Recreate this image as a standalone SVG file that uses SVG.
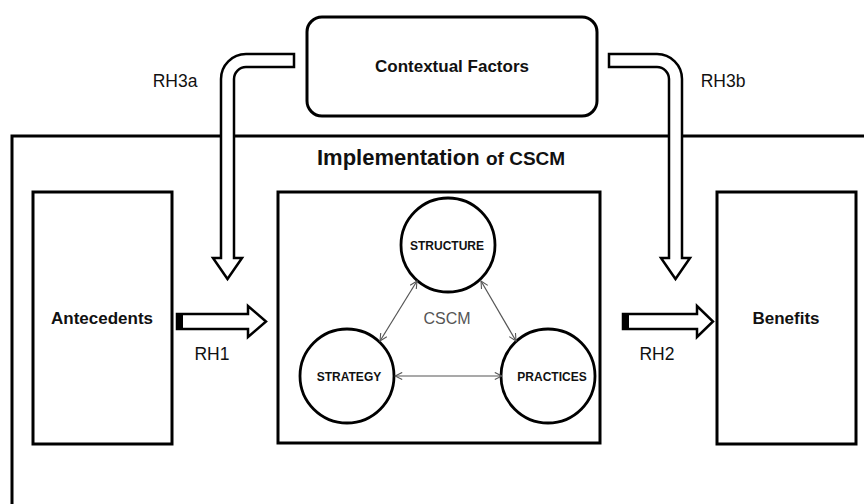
<svg xmlns="http://www.w3.org/2000/svg" width="864" height="504" viewBox="0 0 864 504">
<style>
text{font-family:"Liberation Sans",Arial,sans-serif;fill:#111}
.b{font-weight:bold}
.box{fill:#fff;stroke:#000;stroke-width:3}
.circ{fill:#fff;stroke:#000;stroke-width:2.8}
.fat{fill:#fff;stroke:#000;stroke-width:2.5;stroke-linejoin:miter}
.thin{stroke:#555;stroke-width:1.2;fill:none;marker-start:url(#oa);marker-end:url(#oa)}
.lbl{font-size:17.5px}
</style>
<defs>
<marker id="oa" viewBox="0 0 10 10" refX="9" refY="5" markerWidth="9" markerHeight="9" markerUnits="userSpaceOnUse" orient="auto-start-reverse">
<path d="M1,1 L9,5 L1,9" fill="none" stroke="#555" stroke-width="1.2"/>
</marker>
</defs>
<rect width="864" height="504" fill="#fff"/>
<g id="implementation">
<path d="M12,506 V136 H866" fill="none" stroke="#000" stroke-width="3"/>
<text x="317" y="165" class="b" style="font-size:22px">Implementation<tspan x="486" style="font-size:19px">of CSCM</tspan></text>
</g>
<g id="contextual">
<rect x="307" y="17" width="290" height="99" rx="15" class="box" stroke-width="2.5"/>
<text x="452" y="72" text-anchor="middle" class="b" style="font-size:17px">Contextual Factors</text>
</g>
<g id="antecedents">
<rect x="33" y="192" width="139" height="252" class="box"/>
<text x="102" y="324" text-anchor="middle" class="b" style="font-size:17px">Antecedents</text>
</g>
<g id="cscm">
<rect x="278" y="192" width="322" height="251" class="box"/>
<text x="447" y="324" text-anchor="middle" style="font-size:16px;fill:#555">CSCM</text>
</g>
<g id="benefits">
<rect x="717" y="192" width="139" height="252" class="box"/>
<text x="786" y="324" text-anchor="middle" class="b" style="font-size:17px">Benefits</text>
</g>
<g id="structure">
<circle cx="448" cy="245" r="47" class="circ"/>
<text x="447" y="250" text-anchor="middle" class="b" style="font-size:12px">STRUCTURE</text>
</g>
<g id="strategy">
<circle cx="347" cy="376" r="47" class="circ"/>
<text x="349" y="381" text-anchor="middle" class="b" style="font-size:12px">STRATEGY</text>
</g>
<g id="practices">
<circle cx="548" cy="376" r="47" class="circ"/>
<text x="552" y="381" text-anchor="middle" class="b" style="font-size:12px">PRACTICES</text>
</g>
<g id="connectors">
<line x1="417" y1="281" x2="380" y2="341" class="thin"/>
<line x1="481" y1="281" x2="516" y2="341" class="thin"/>
<line x1="395" y1="376" x2="502" y2="376" class="thin"/>
<path d="M294,54 H246 A25,25 0 0 0 221,79 V258 H213 L227.5,279 L242,258 H234 V79 A12,12 0 0 1 246,67 H294 Z" class="fat"/>
<path d="M609,54 H657 A25,25 0 0 1 682,79 V258 H690 L675.5,279 L661,258 H669 V79 A12,12 0 0 0 657,67 H609 Z" class="fat"/>
<path d="M177,314 H248 V306 L266,321.5 L248,337 V329 H177 Z" class="fat"/>
<rect x="177" y="314" width="6" height="15" fill="#000"/>
<path d="M623,314 H697 V306 L713,321.5 L697,337 V329 H623 Z" class="fat"/>
<rect x="623" y="314" width="6" height="15" fill="#000"/>
<text x="175" y="87" text-anchor="middle" class="lbl">RH3a</text>
<text x="723" y="87" text-anchor="middle" class="lbl">RH3b</text>
<text x="212" y="360" text-anchor="middle" class="lbl">RH1</text>
<text x="657" y="360" text-anchor="middle" class="lbl">RH2</text>
</g>
</svg>
